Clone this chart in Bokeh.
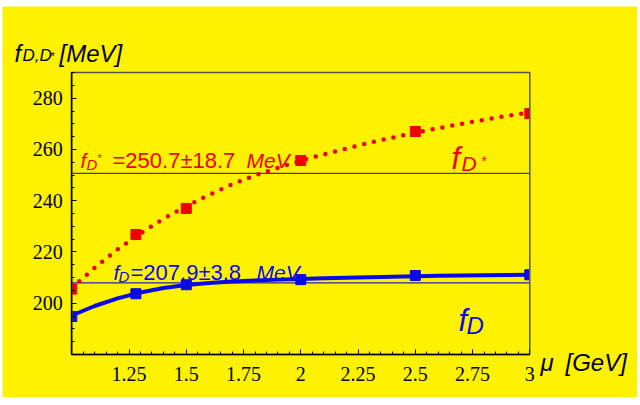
from bokeh.plotting import figure
from bokeh.models import Label, FixedTicker, Range1d
from bokeh.embed import file_html
from bokeh.resources import INLINE

# ---------------- data ----------------
mu_points = [1.0, 1.28, 1.5, 2.0, 2.5, 3.0]
fDs_points = [205.5, 226.8, 237.0, 255.7, 267.0, 274.0]
fD_points = [194.8, 203.7, 207.2, 209.2, 210.8, 211.1]

mu_curve = [1.0, 1.1, 1.2, 1.3, 1.4, 1.5, 1.6, 1.7, 1.8, 1.9, 2.0,
            2.1, 2.2, 2.3, 2.4, 2.5, 2.6, 2.7, 2.8, 2.9, 3.0]
fDs_curve = [206.0, 213.8, 221.0, 227.2, 232.9, 237.9, 242.3, 246.4, 249.9, 252.8, 255.6,
             258.1, 260.4, 262.6, 264.6, 266.5, 268.3, 270.0, 271.6, 273.1, 274.4]
fD_curve = [195.2, 198.9, 201.9, 204.2, 205.9, 207.1, 207.9, 208.5, 208.9, 209.2, 209.4,
            209.7, 209.9, 210.1, 210.3, 210.5, 210.7, 210.8, 210.9, 211.0, 211.1]

fDs_value, fDs_error = 250.7, 18.7
fD_value, fD_error = 207.9, 3.8

x_limits = (1.0, 3.0)
y_limits = (180, 290)
x_ticks = [1.25, 1.5, 1.75, 2.0, 2.25, 2.5, 2.75, 3.0]
x_tick_labels = ["1.25", "1.5", "1.75", "2", "2.25", "2.5", "2.75", "3"]
x_minor_ticks = [1.0 + 0.05 * i for i in range(41)]
y_ticks = [200, 220, 240, 260, 280]
y_tick_labels = ["200", "220", "240", "260", "280"]
y_minor_ticks = list(range(180, 291, 5))

# ---------------- styling ----------------
YELLOW = "#FFF200"
RED = "#EE0000"
BLUE = "#0A0AE6"
SANS = "Liberation Sans"
SERIF = "Liberation Serif"

FIG_W, FIG_H = 635, 391
OFF_X, OFF_Y = 2, 6


# page-pixel -> data helpers (frame box: x 71.3..529.3, y 71.7..354.3 on the page)
def dx(px):
    return 1.0 + (px - 71.3) / 229.0


def dy(py):
    return 200.0 + (302.7 - py) / 2.5625


p = figure(width=FIG_W, height=FIG_H,
           x_range=Range1d(dx(OFF_X), dx(OFF_X + FIG_W)),
           y_range=Range1d(dy(OFF_Y + FIG_H), dy(OFF_Y)),
           min_border=0, min_border_left=0, min_border_right=0,
           min_border_top=0, min_border_bottom=0,
           output_backend="svg", toolbar_location=None,
           background_fill_color=YELLOW, border_fill_color=YELLOW)
p.margin = (OFF_Y, 0, 0, OFF_X)
p.title.visible = False
p.xgrid.visible = False
p.ygrid.visible = False
p.outline_line_color = None

p.xaxis.ticker = FixedTicker(ticks=x_ticks, minor_ticks=x_minor_ticks)
p.xaxis.major_label_overrides = dict(zip(x_ticks, x_tick_labels))
p.xaxis.fixed_location = y_limits[0]
p.xaxis.bounds = x_limits
p.yaxis.ticker = FixedTicker(ticks=y_ticks, minor_ticks=y_minor_ticks)
p.yaxis.major_label_overrides = dict(zip(y_ticks, y_tick_labels))
p.yaxis.fixed_location = x_limits[0]
p.yaxis.bounds = y_limits
for ax in (p.xaxis, p.yaxis):
    ax.major_tick_in = 5
    ax.major_tick_out = 0
    ax.minor_tick_in = 3
    ax.minor_tick_out = 0
    ax.axis_line_color = "black"
    ax.axis_line_width = 1.5
    ax.major_tick_line_color = "black"
    ax.minor_tick_line_color = "black"
    ax.major_label_text_font = SERIF
    ax.major_label_text_font_size = "20px"
    ax.major_label_text_color = "black"
p.yaxis.major_label_standoff = 9
p.xaxis.major_label_standoff = 13

# horizontal central values
p.segment(x0=[x_limits[0]], x1=[x_limits[1]], y0=[fDs_value], y1=[fDs_value],
          line_color="#3A3A8C", line_width=1.2)
p.segment(x0=[x_limits[0]], x1=[x_limits[1]], y0=[fD_value], y1=[fD_value],
          line_color="#2020C0", line_width=1.2)

# curves
p.line(mu_curve, fDs_curve, line_color=RED, line_width=4.5, line_dash="0 10", line_cap="round")
p.line(mu_curve, fD_curve, line_color=BLUE, line_width=4)

# points
p.scatter(mu_points, fDs_points, marker="square", size=10, fill_color=RED, line_color=RED)
p.scatter(mu_points, fD_points, marker="square", size=10, fill_color=BLUE, line_color=BLUE)

# clip marks at the plot box edges (yellow strips just outside the box)
strip = 8 / 229.0
p.quad(left=[x_limits[0] - strip, x_limits[1]], right=[x_limits[0], x_limits[1] + strip],
       bottom=[y_limits[0], y_limits[0]], top=[y_limits[1], y_limits[1]],
       fill_color=YELLOW, line_color=None)

# plot box
p.quad(left=[x_limits[0]], right=[x_limits[1]], bottom=[y_limits[0]], top=[y_limits[1]],
       fill_color=None, line_color="#555555", line_width=1.5)


def lab(text, px, py, size, color="black", style="normal"):
    p.add_layout(Label(x=dx(px), y=dy(py), text=text, text_font=SANS,
                       text_font_size=f"{size}px", text_color=color,
                       text_font_style=style, text_baseline="alphabetic",
                       text_align="left"))


# y axis title f_{D,D*} [MeV]
lab("f", 14, 52.5, 24, style="italic")
lab("D,D", 22, 54.5, 17, style="italic")
lab("*", 50, 55, 11)
lab("[MeV]", 59, 53, 24, style="italic")

# x axis title
lab("μ", 540, 362, 24, style="italic")
lab("[GeV]", 565, 362, 24, style="italic")

# f_D* annotation
lab("f", 80, 159.5, 21, RED, "italic")
lab("D", 86, 164, 15, RED, "italic")
lab("*", 97, 157, 11, RED)
lab(f"={fDs_value}±{fDs_error}", 112, 159.5, 22, RED)
lab("MeV", 246, 159.5, 21, RED, "italic")

# f_D annotation
lab("f", 113, 271.5, 21, BLUE, "italic")
lab("D", 118, 276, 15, BLUE, "italic")
lab(f"={fD_value}±{fD_error}", 130, 271.5, 22, BLUE)
lab("MeV", 256, 271.5, 21, BLUE, "italic")

# big curve labels
lab("f", 451, 158, 31, RED, "italic")
lab("D", 461, 163, 21, RED, "italic")
lab("*", 481, 160, 14, RED)
lab("f", 458, 320, 31, BLUE, "italic")
lab("D", 466, 325, 24, BLUE, "italic")

open("out.html", "w").write(file_html(p, INLINE))
